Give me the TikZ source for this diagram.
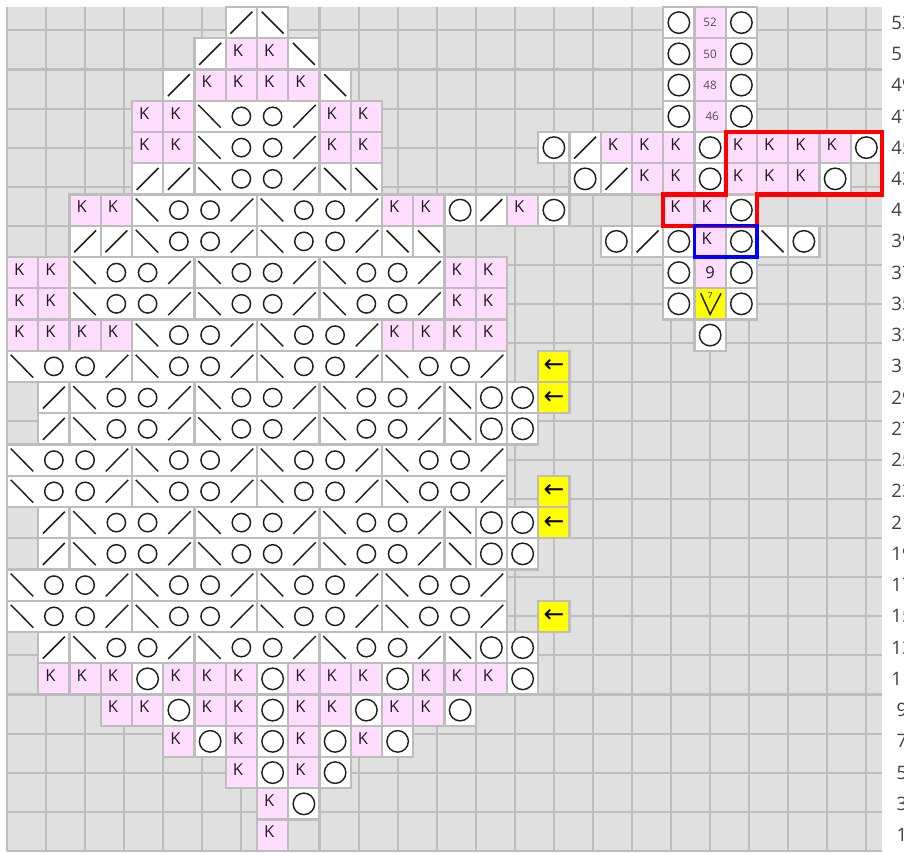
\documentclass[tikz,border=0pt]{standalone}
\usepackage{fontspec}
\setmainfont{Open Sans}
\newfontfamily\simbolos{DejaVu Sans}
\usepackage{tikz}
\usetikzlibrary{positioning}
\definecolor{fondo}{HTML}{E0E0E0}
\definecolor{rejilla}{HTML}{BDBDBD}
\definecolor{rosa}{HTML}{FFDDFF}
\definecolor{amarillo}{HTML}{FFFF00}
\definecolor{tinta}{HTML}{1E1E1E}
\definecolor{cifra}{HTML}{5C4A5C}

\begin{document}
\begin{tikzpicture}[x=0.8cm, y=0.8cm,
  casilla/.style={draw=rejilla, line width=1.5pt, minimum width=0.8cm, minimum height=0.8cm, inner sep=0pt, outer sep=0pt},
  trazo/.style={draw=tinta, line width=1.05pt},
  letra/.style={font=\fontsize{12}{12}\selectfont, text=tinta, inner sep=0pt},
  derecho/.style={casilla, fill=rosa, label={[letra, xshift=-2.6pt, yshift=2.2pt]center:K}},
  lazada/.style={casilla, fill=white, path picture={\draw[trazo] (path picture bounding box.center) circle [radius=0.275cm];}},
  dcha/.style={casilla, fill=white, path picture={\draw[trazo] ([shift={(0.12cm,0.12cm)}]path picture bounding box.south west) -- ([shift={(-0.12cm,-0.12cm)}]path picture bounding box.north east);}},
  izda/.style={casilla, fill=white, path picture={\draw[trazo] ([shift={(0.12cm,-0.12cm)}]path picture bounding box.north west) -- ([shift={(-0.12cm,0.12cm)}]path picture bounding box.south east);}},
  motivo/.style={casilla, fill=white, minimum width=3.2cm, path picture={
      \draw[trazo] ([shift={(-1.88,0.37)}]path picture bounding box.center) -- ([shift={(-1.16,-0.36)}]path picture bounding box.center);
      \draw[trazo] ([shift={(-0.5,0)}]path picture bounding box.center) circle [radius=0.235cm];
      \draw[trazo] ([shift={(0.5,0)}]path picture bounding box.center) circle [radius=0.235cm];
      \draw[trazo] ([shift={(1.16,-0.36)}]path picture bounding box.center) -- ([shift={(1.88,0.37)}]path picture bounding box.center);}},
  aviso/.style={casilla, fill=amarillo, font=\simbolos\fontsize{18}{18}\selectfont},
  numerada/.style={casilla, fill=rosa, font=\fontsize{8.5}{8.5}\selectfont, text=cifra},
  marca/.style={font=\fontsize{13.5}{13.5}\selectfont, text=tinta!85, anchor=center}
]
\useasboundingbox (-0.224,-0.072) rectangle (28.704,27.224);

% fondo y rejilla
\fill[fondo] (0,0) rectangle (28,27);
\draw[rejilla, line width=1.5pt] (0,0) grid (28,27);

% puntos del derecho
\foreach \r/\lista in {26/{8,9}, 25/{7,8,9,10}, 24/{5,6,11,12},
  23/{5,6,11,12,20,21,22,24,25,26,27}, 22/{21,22,24,25,26},
  21/{3,4,13,14,17,22,23}, 20/{23}, 19/{1,2,15,16}, 18/{1,2,15,16},
  17/{1,2,3,4,13,14,15,16}, 6/{2,3,4,6,7,8,10,11,12,14,15,16},
  5/{4,5,7,8,10,11,13,14}, 4/{6,8,10,12}, 3/{8,10}, 2/{9}, 1/{9}}
  \foreach \c in \lista
    \node[derecho] (d-\c-\r) at (\c-0.5,\r-0.5) {};

% lazadas
\foreach \r/\lista in {27/{22,24}, 26/{22,24}, 25/{22,24}, 24/{22,24},
  23/{18,23,28}, 22/{19,23,27}, 21/{15,18,24}, 20/{20,22,24,26},
  19/{22,24}, 18/{22,24}, 17/{23}, 15/{16,17}, 14/{16,17}, 11/{16,17},
  10/{16,17}, 7/{16,17}, 6/{5,9,13,17}, 5/{6,9,12,15}, 4/{7,9,11,13},
  3/{9,11}, 2/{10}}
  \foreach \c in \lista
    \node[lazada] (o-\c-\r) at (\c-0.5,\r-0.5) {};

% menguados
\foreach \r/\lista in {27/{8}, 26/{7}, 25/{6}, 23/{19}, 22/{5,6,20}, 21/{16},
  20/{3,4,21}, 15/{2}, 14/{2}, 11/{2}, 10/{2}, 7/{2}}
  \foreach \c in \lista
    \node[dcha] (m-\c-\r) at (\c-0.5,\r-0.5) {};
\foreach \r/\lista in {27/{9}, 26/{10}, 25/{11}, 22/{11,12}, 20/{13,14,25},
  15/{15}, 14/{15}, 11/{15}, 10/{15}, 7/{15}}
  \foreach \c in \lista
    \node[izda] (n-\c-\r) at (\c-0.5,\r-0.5) {};

% motivo de cuatro puntos
\foreach \r/\lista in {24/{7}, 23/{7}, 22/{7}, 21/{5,9}, 20/{5,9},
  19/{3,7,11}, 18/{3,7,11}, 17/{5,9}, 16/{1,5,9,13}, 15/{3,7,11},
  14/{3,7,11}, 13/{1,5,9,13}, 12/{1,5,9,13}, 11/{3,7,11}, 10/{3,7,11},
  9/{1,5,9,13}, 8/{1,5,9,13}, 7/{3,7,11}}
  \foreach \c in \lista
    \node[motivo] (g-\c-\r) at (\c+1,\r-0.5) {};

% vueltas
\foreach \r in {16,15,12,11,8}
  \node[aviso] (v-\r) at (17.5,\r-0.5) {←};

% columna central
\node[numerada] (c52) at (22.5,26.5) {52};
\node[numerada] (c50) at (22.5,25.5) {\raisebox{-2pt}{50}};
\node[numerada] (c48) at (22.5,24.5) {\raisebox{-3.6pt}{48}};
\node[numerada] (c46) at (22.5,23.5) {\hspace{3pt}\raisebox{-1.2pt}{46}};
\node[casilla, fill=rosa, letra] (c9) at (22.5,18.5) {9};
\node[casilla, fill=amarillo] (c7) at (22.5,17.5) {};
\draw[trazo] ([shift={(0.16cm,-0.13cm)}]c7.north west) -- ([yshift=0.13cm]c7.south) -- ([shift={(-0.12cm,-0.13cm)}]c7.north east);
\node[font=\fontsize{6}{6}\selectfont, text=tinta, inner sep=0pt] (c7n) at ([yshift=-0.2cm]c7.north) {7};

% recuadros
\draw[red, line width=3pt] (23,23) -- (28,23) -- (28,21) -- (24,21) -- (24,20) -- (21,20) -- (21,21) -- (23,21) -- cycle;
\draw[blue, line width=2.2pt] (22,19) rectangle (24,20);

% numeros de fila
\foreach \r in {1,...,27} {
  \pgfmathtruncatemacro{\fila}{2*\r-1}
  \node[marca] (f-\r) at (28.64,\r-0.5) {\fila};
}
\end{tikzpicture}
\end{document}
